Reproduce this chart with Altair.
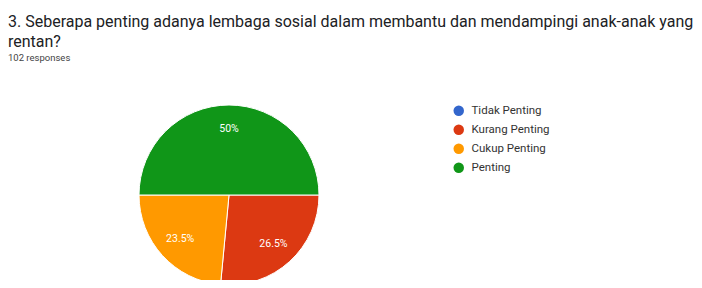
import altair as alt
import pandas as pd

categories = ["Tidak Penting", "Kurang Penting", "Cukup Penting", "Penting"]
values = [0.0, 26.5, 23.5, 50.0]
labels = ["0%", "26.5%", "23.5%", "50%"]
colors = ["#3366cc", "#dc3912", "#ff9900", "#109618"]
order_idx = [0, 1, 2, 3]

df = pd.DataFrame({"cat": categories, "value": values, "label": labels, "idx": order_idx})

FONT = "Roboto"
cx, cy, R = 221, 117, 90

theta = alt.Theta("value:Q", stack=True,
                  scale=alt.Scale(range=[1.5707963, 1.5707963 + 6.2831853]))
color = alt.Color("cat:N",
                  scale=alt.Scale(domain=categories, range=colors),
                  legend=alt.Legend(title=None, orient="none", legendX=445, legendY=27,
                                    symbolType="circle", symbolSize=110, symbolStrokeWidth=0,
                                    labelFont=FONT, labelFontSize=11.5, labelColor="#333333",
                                    rowPadding=6, padding=0, labelOffset=7))

base = alt.Chart(df).encode(theta=theta, order=alt.Order("idx:Q"))

arcs = base.mark_arc(outerRadius=R, stroke="white", strokeWidth=1).encode(
    color=color,
    x=alt.value(cx), y=alt.value(cy),
)

text = base.transform_filter("datum.value > 0").mark_text(
    radius=66, font=FONT, fontSize=10.5, color="white"
).encode(text="label:N", x=alt.value(cx), y=alt.value(cy))

chart = alt.layer(arcs, text).properties(
    width=686, height=202,
    title=alt.Title(
        text=["3. Seberapa penting adanya lembaga sosial dalam membantu dan mendampingi anak-anak yang", "rentan?"],
        subtitle="102 responses",
        anchor="start", frame="group", font=FONT, fontSize=16, fontWeight="normal",
        color="#202124", lineHeight=20, subtitleFont=FONT, subtitleFontSize=9.5,
        subtitleColor="#444444", subtitlePadding=3, offset=16,
    ),
    autosize=alt.AutoSizeParams(type="none"),
    padding={"left": 0, "top": 70, "right": 0, "bottom": 0},
).configure_view(stroke=None)

chart.save("out.html", embed_options={"renderer": "svg", "actions": False})
